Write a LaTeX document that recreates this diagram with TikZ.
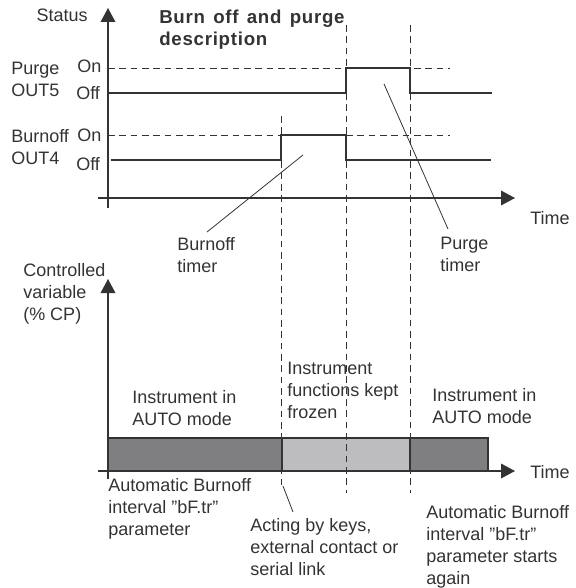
\documentclass[tikz,border=0pt]{standalone}
\usepackage{fontspec}
\setmainfont{Liberation Sans}
\newfontfamily\titulofont[LetterSpace=4]{Liberation Sans}
\usetikzlibrary{arrows.meta}
\definecolor{trazo}{HTML}{333333}
\definecolor{barraoscura}{HTML}{7F7F82}
\definecolor{barraclara}{HTML}{BDBDC0}
\newcommand{\comillas}[1]{\char34 #1\char34}

\begin{document}
\begin{tikzpicture}[
        x=0.75pt, y=-0.75pt,
        every node/.style={inner sep=0pt, text=trazo, font=\fontsize{13.5}{16.5}\selectfont},
        texto/.style={anchor=north west, align=left},
        etiqueta/.style={anchor=base west},
        eje/.style={draw=trazo, line width=1pt, -{Triangle[length=10.5pt,width=11pt]}},
        senal/.style={draw=trazo, line width=1.1pt},
        guia/.style={draw=trazo, line width=0.7pt, dash pattern=on 5pt off 3.5pt},
        flecha/.style={draw=trazo, line width=0.6pt}
    ]
        \useasboundingbox (0,0) rectangle (575,588);

        % Barra del modo del instrumento
        \filldraw[fill=barraoscura, draw=trazo, line width=0.8pt] (108,438) rectangle (282,471);
        \filldraw[fill=barraclara, draw=trazo, line width=0.8pt] (282,438) rectangle (410,471);
        \filldraw[fill=barraoscura, draw=trazo, line width=0.8pt] (410,438) rectangle (488,471);

        % Ejes
        \draw[eje] (108,208) -- (108,8);
        \draw[eje] (98,198) -- (515,198);
        \draw[eje] (108,479) -- (108,279);
        \draw[eje] (98,471) -- (515,471);

        % Niveles On y salidas OUT5 / OUT4
        \draw[guia] (108,68) -- (450,68);
        \draw[guia] (108,135) -- (450,135);
        \draw[senal] (108,93) -- (346,93) -- (346,68) -- (410,68) -- (410,93) -- (492,93);
        \draw[senal] (111,160) -- (281,160) -- (281,135) -- (346,135) -- (346,160) -- (491,160);

        % Instantes de cambio
        \draw[guia] (281,116) -- (281,486);
        \draw[guia] (346,25) -- (346,493);
        \draw[guia] (410,25) -- (410,493);

        % Textos
        \node[anchor=base east] (status) at (88,22) {Status};
        \node[texto, font=\titulofont\bfseries\fontsize{14}{16.5}\selectfont] (titulo) at (159,10)
            {\hbox to 139pt{Burn\hfill off\hfill and\hfill purge}\\description};
        \node[texto] (purga) at (11,62) {Purge\\OUT5};
        \node[etiqueta] (on5) at (77,73) {On};
        \node[etiqueta] (off5) at (76,100) {Off};
        \node[texto] (burnoff) at (11,129) {Burnoff\\OUT4};
        \node[etiqueta] (on4) at (77,142) {On};
        \node[etiqueta] (off4) at (76,170) {Off};
        \node[etiqueta] (tiempo1) at (530,224) {Time};
        \node[texto] (tburn) at (177,237) {Burnoff\\timer};
        \node[texto] (tpurga) at (440,237) {Purge\\timer};
        \node[texto] (variable) at (23,263) {Controlled\\variable\\(\% CP)};
        \node[texto] (autoizq) at (132,390) {Instrument in\\AUTO mode};
        \node[texto] (congelado) at (287,362) {Instrument\\functions kept\\frozen};
        \node[texto] (autoder) at (432,388) {Instrument in\\AUTO mode};
        \node[etiqueta] (tiempo2) at (530,478) {Time};
        \node[texto] (intervalo) at (108,478) {Automatic Burnoff\\interval \comillas{bF.tr}\\parameter};
        \node[texto] (teclas) at (250,518) {Acting by keys,\\external contact or\\serial link};
        \node[texto] (reinicio) at (426,505) {Automatic Burnoff\\interval \comillas{bF.tr}\\parameter starts\\again};

        % Lineas de referencia
        \coordinate (pb) at (303,155);
        \coordinate (pp) at (384,84);
        \coordinate (pa) at (283,486);
        \draw[flecha] (tburn.north west) ++(30,-5) -- (pb);
        \draw[flecha] (tpurga.north west) ++(8,-8) -- (pp);
        \draw[flecha] (teclas.north west) ++(43,-6) -- (pa);
\end{tikzpicture}
\end{document}
